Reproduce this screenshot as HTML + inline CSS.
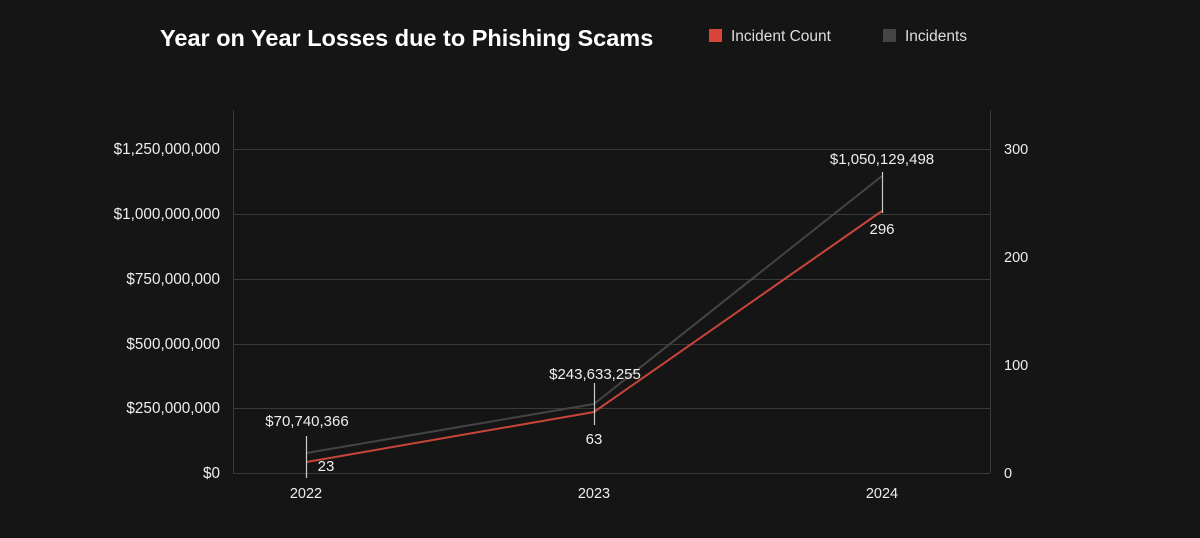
<!DOCTYPE html>
<html><head><style>
html,body{margin:0;padding:0;background:#141414;}
body{width:1200px;height:533px;overflow:hidden;font-family:"Liberation Sans",sans-serif;}
</style></head><body>
<svg width="1200" height="533" viewBox="0 0 1200 533" xmlns="http://www.w3.org/2000/svg" font-family="Liberation Sans, sans-serif">
<rect width="1200" height="533" fill="#151515"/>
<text x="160" y="46" fill="#fff" font-size="23.5" font-weight="bold">Year on Year Losses due to Phishing Scams</text>
<rect x="709" y="29" width="13" height="13" fill="#d9443a"/>
<text x="731" y="41" fill="#ddd" font-size="15.5">Incident Count</text>
<rect x="883" y="29" width="13" height="13" fill="#444"/>
<text x="905" y="41" fill="#ddd" font-size="15.5">Incidents</text>
<g stroke="#3a3a3a" stroke-width="1">
<line x1="233" y1="149.5" x2="990" y2="149.5"/>
<line x1="233" y1="214.5" x2="990" y2="214.5"/>
<line x1="233" y1="279.5" x2="990" y2="279.5"/>
<line x1="233" y1="344.5" x2="990" y2="344.5"/>
<line x1="233" y1="408.5" x2="990" y2="408.5"/>
<line x1="233" y1="473.5" x2="990" y2="473.5"/>
<line x1="233.5" y1="110" x2="233.5" y2="473"/>
<line x1="990.5" y1="110" x2="990.5" y2="473"/>
</g>
<g fill="#eee" font-size="15.3" text-anchor="end">
<text x="220" y="154">$1,250,000,000</text>
<text x="220" y="219">$1,000,000,000</text>
<text x="220" y="284">$750,000,000</text>
<text x="220" y="349">$500,000,000</text>
<text x="220" y="413">$250,000,000</text>
<text x="220" y="478">$0</text>
</g>
<g fill="#eee" font-size="14.5">
<text x="1004" y="154">300</text>
<text x="1004" y="262">200</text>
<text x="1004" y="370">100</text>
<text x="1004" y="478">0</text>
</g>
<g fill="#eee" font-size="14.5" text-anchor="middle">
<text x="306" y="498">2022</text>
<text x="594" y="498">2023</text>
<text x="882" y="498">2024</text>
</g>
<polyline points="306.5,453 594,404 882,176" fill="none" stroke="#444" stroke-width="2"/>
<polyline points="306.5,462 594,412 882,211" fill="none" stroke="#c9453a" stroke-width="2"/>
<g stroke="#ccc" stroke-width="1.2">
<line x1="306.5" y1="436" x2="306.5" y2="478"/>
<line x1="594.5" y1="383" x2="594.5" y2="425"/>
<line x1="882.5" y1="172" x2="882.5" y2="213"/>
</g>
<g fill="#eee" font-size="15" text-anchor="middle">
<text x="307" y="426">$70,740,366</text>
<text x="326" y="471">23</text>
<text x="595" y="379">$243,633,255</text>
<text x="594" y="444">63</text>
<text x="882" y="164">$1,050,129,498</text>
<text x="882" y="234">296</text>
</g>
</svg>
</body></html>
